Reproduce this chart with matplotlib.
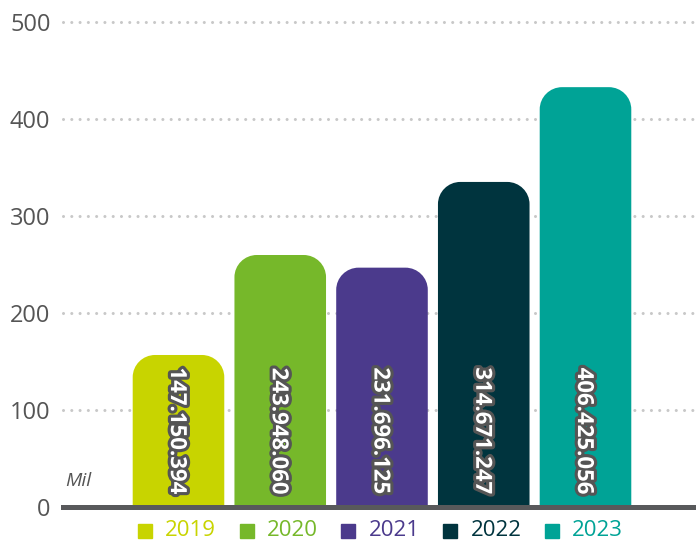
import matplotlib
matplotlib.use("Agg")
import matplotlib.pyplot as plt
import matplotlib.patheffects as pe
from matplotlib.path import Path
from matplotlib.patches import PathPatch
import numpy as np

years = ["2019", "2020", "2021", "2022", "2023"]
values = [147.150394, 243.948060, 231.696125, 314.671247, 406.425056]
labels = ["147.150.394", "243.948.060", "231.696.125", "314.671.247", "406.425.056"]
colors = ["#C8D400", "#76B82A", "#4B3A8C", "#00343E", "#00A396"]
tick_labels = [0, 100, 200, 300, 400, 500]
# the printed axis does not follow the bar values exactly
axis_scale = 0.939

plt.rcParams['font.family'] = ['Open Sans', 'DejaVu Sans']

fig = plt.figure(figsize=(6.96, 5.42), dpi=100)
ax = fig.add_axes([63 / 696, 1 - 507 / 542, 1 - 63 / 696, 507 / 542])

x = np.arange(len(years))
bars = ax.bar(x, values, width=0.9, color=colors)
ax.set_xlim(-1.135, 5.086)
ax.set_ylim(0, 490.8)

# swap plain rectangles for bars with rounded tops
rx, ry = 0.22, 21.5
k = 0.5523
for rect, c in zip(bars, colors):
    x0, y0 = rect.get_x(), rect.get_y()
    w, h = rect.get_width(), rect.get_height()
    x1, top = x0 + w, y0 + h
    verts = [(x0, y0), (x0, top - ry),
             (x0, top - ry + k * ry), (x0 + rx - k * rx, top), (x0 + rx, top),
             (x1 - rx, top),
             (x1 - rx + k * rx, top), (x1, top - ry + k * ry), (x1, top - ry),
             (x1, y0), (x0, y0)]
    codes = [Path.MOVETO, Path.LINETO,
             Path.CURVE4, Path.CURVE4, Path.CURVE4,
             Path.LINETO,
             Path.CURVE4, Path.CURVE4, Path.CURVE4,
             Path.LINETO, Path.CLOSEPOLY]
    ax.add_patch(PathPatch(Path(verts, codes), facecolor=c, edgecolor='none', zorder=2))
    rect.set_visible(False)

for xi, lab in zip(x, labels):
    ax.text(xi - 0.02, 12, lab, rotation=-90, ha='center', va='bottom',
            color='white', fontsize=16, fontweight='bold', zorder=4,
            path_effects=[pe.withStroke(linewidth=4.5, foreground='#555555')])

ticks = [t * axis_scale for t in tick_labels]
ax.set_yticks(ticks)
ax.set_yticklabels([str(t) for t in tick_labels], fontsize=17, color='#555555')
ax.tick_params(axis='y', length=0, pad=9)
ax.set_xticks([])
for t in ticks[1:]:
    ax.axhline(t, color='#C8C8C8', lw=2.2, linestyle=(0, (0.01, 2.7)),
               dash_capstyle='round', zorder=1, clip_on=False)
for s in ax.spines.values():
    s.set_visible(False)
ax.axhline(0, color='#58595B', lw=3.6, zorder=3, clip_on=False)

ax.text(2 / 696, 0.052, 'Mil', transform=ax.transAxes, fontsize=14,
        style='italic', color='#555555', ha='left', va='center')

# legend under the bars
trans = ax.get_xaxis_transform()
for xi, yr, c in zip(x, years, colors):
    ax.plot(xi - 0.33, -0.047, marker='s', markersize=10, color=c,
            transform=trans, clip_on=False)
    ax.text(xi - 0.13, -0.047, yr, color=c, fontsize=16, ha='left', va='center',
            transform=trans)

fig.savefig('out.png', dpi=100)
